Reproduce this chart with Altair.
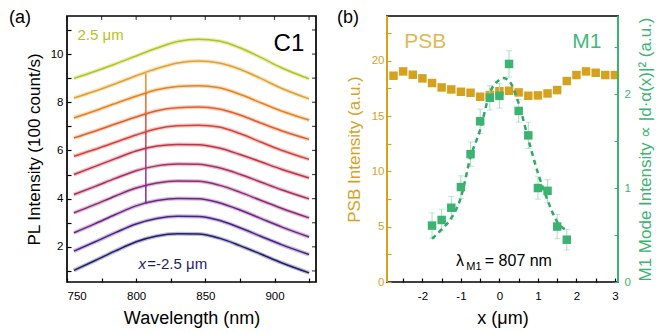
import altair as alt
import pandas as pd

FONT = "Liberation Sans"

# ---------------- panel (a) data ----------------
wavelengths = [755, 770, 785, 800, 815, 830, 845, 860, 875, 890, 905, 925]
positions = ["2.5", "2.0", "1.5", "1.0", "0.5", "0.0", "-0.5", "-1.0", "-1.5", "-2.0", "-2.5"]
curve_colors = ["#b5c320", "#e0a22e", "#e5841f", "#e0602a", "#d4443a", "#c03447",
                "#a8305e", "#8c2a78", "#6c2486", "#4a2088", "#1f1d6b"]
spec_p25 = [8.99, 9.28, 9.59, 9.92, 10.25, 10.52, 10.62, 10.54, 10.26, 9.86, 9.43, 8.97]
spec_p20 = [8.18, 8.46, 8.77, 9.10, 9.40, 9.63, 9.71, 9.63, 9.37, 8.99, 8.58, 8.14]
spec_p15 = [7.35, 7.64, 7.95, 8.25, 8.52, 8.65, 8.68, 8.60, 8.33, 7.98, 7.64, 7.26]
spec_p10 = [6.52, 6.80, 7.10, 7.39, 7.65, 7.77, 7.80, 7.72, 7.47, 7.14, 6.82, 6.46]
spec_p05 = [5.76, 6.04, 6.34, 6.64, 6.90, 7.02, 7.05, 6.97, 6.70, 6.35, 6.01, 5.63]
spec_p00 = [5.00, 5.33, 5.66, 5.98, 6.18, 6.25, 6.24, 6.10, 5.83, 5.53, 5.22, 4.86]
spec_m05 = [4.17, 4.50, 4.84, 5.16, 5.36, 5.44, 5.43, 5.28, 5.01, 4.69, 4.37, 3.99]
spec_m10 = [3.41, 3.75, 4.11, 4.44, 4.65, 4.73, 4.72, 4.56, 4.27, 3.93, 3.60, 3.20]
spec_m15 = [2.58, 2.95, 3.34, 3.70, 3.92, 4.01, 4.00, 3.83, 3.53, 3.18, 2.83, 2.41]
spec_m20 = [1.82, 2.20, 2.59, 2.95, 3.18, 3.27, 3.26, 3.10, 2.79, 2.44, 2.09, 1.68]
spec_m25 = [1.02, 1.42, 1.83, 2.21, 2.45, 2.54, 2.53, 2.36, 2.05, 1.70, 1.34, 0.92]
spectra = [spec_p25, spec_p20, spec_p15, spec_p10, spec_p05, spec_p00,
           spec_m05, spec_m10, spec_m15, spec_m20, spec_m25]

spike_positions = ["1.5", "1.0", "0.5", "0.0", "-0.5", "-1.0", "-1.5"]
spike_wavelength = [807, 807, 807, 807, 807, 807, 807]
spike_base = [8.38, 7.51, 6.76, 6.07, 5.25, 4.54, 3.80]
spike_top = [9.18, 8.38, 7.51, 6.76, 6.07, 5.25, 4.54]

# ---------------- panel (b) data ----------------
psb_x = [-2.75, -2.5, -2.25, -2.0, -1.75, -1.5, -1.25, -1.0, -0.75, -0.5, -0.25, 0.0,
         0.25, 0.5, 0.75, 1.0, 1.25, 1.5, 1.75, 2.0, 2.25, 2.5, 2.75, 3.0]
psb_y = [18.65, 19.04, 18.74, 18.41, 17.99, 17.59, 17.41, 17.20, 17.11, 16.75, 16.90, 17.25,
         17.29, 17.14, 16.84, 16.87, 17.05, 17.35, 18.17, 18.71, 19.04, 18.92, 18.71, 18.71]
m1_x = [-1.75, -1.5, -1.25, -1.0, -0.75, -0.5, -0.25, 0.0, 0.25, 0.5, 0.75, 1.0, 1.25, 1.5, 1.75]
m1_y = [0.60, 0.66, 0.79, 1.01, 1.36, 1.71, 1.96, 1.98, 2.32, 1.82, 1.56, 1.00, 0.97, 0.59, 0.45]
m1_err = [0.135, 0.115, 0.12, 0.12, 0.13, 0.13, 0.13, 0.13, 0.14, 0.12, 0.14, 0.12, 0.12, 0.13, 0.11]
fit_x = [-1.75, -1.5, -1.25, -1.0, -0.75, -0.5, -0.25, 0.0, 0.1, 0.25, 0.5, 0.75, 1.0, 1.25, 1.5, 1.75]
fit_y = [0.46, 0.56, 0.68, 0.90, 1.33, 1.62, 2.01, 2.15, 2.17, 2.14, 1.90, 1.52, 1.16, 0.87, 0.64, 0.55]

GOLD = "#d6a21e"
GOLD_TXT = "#e2b84f"
GREEN = "#3cb371"
GREEN_LIGHT = "#a6dcbd"
GREEN_LINE = "#2eaa66"

WA, HA = 249, 266
WB, HB = 231, 266
TS = 4

# ---------------- panel (a) ----------------
rows = []
for p, vals in zip(positions, spectra):
    for w, v in zip(wavelengths, vals):
        rows.append({"pos": p, "wl": w, "v": v})
spec_df = pd.DataFrame(rows)
spike_df = pd.DataFrame({"pos": spike_positions, "wl": spike_wavelength,
                         "v": spike_base, "v2": spike_top})

color_a = alt.Color("pos:N", scale=alt.Scale(domain=positions, range=curve_colors), legend=None)
xa_scale = alt.Scale(domain=[750, 930], nice=False, zero=False)
ya_scale = alt.Scale(domain=[0.54, 11.58], nice=False, zero=False)

x_ticks_a = [750, 775, 800, 825, 850, 875, 900, 925]
y_ticks_a = [1, 2, 3, 4, 5, 6, 7, 8, 9, 10, 11]

axis_xa = alt.Axis(
    values=x_ticks_a, labelExpr="datum.value % 50 == 0 ? toString(datum.value) : ''",
    labelOverlap=False, offset=-TS, tickSize=TS, domain=False, grid=False, labelPadding=8,
    title="Wavelength (nm)", titlePadding=8, titleFontSize=18, titleFontWeight="normal")
axis_ya = alt.Axis(
    values=y_ticks_a, labelExpr="datum.value % 2 == 0 ? toString(datum.value) : ''",
    labelOverlap=False, offset=-TS, tickSize=TS, domain=False, grid=False, labelPadding=4,
    title="PL Intensity (100 count/s)", titlePadding=7, titleFontSize=17, titleFontWeight="normal")


def XA(f):
    return alt.X(f, type="quantitative", scale=xa_scale, axis=axis_xa)


def YA(f):
    return alt.Y(f, type="quantitative", scale=ya_scale, axis=axis_ya)


noise = alt.Chart(spec_df).mark_line(interpolate="monotone", strokeWidth=4, opacity=0.3).encode(
    x=XA("wl"), y=YA("v"), color=color_a, order="wl:Q")
lines = alt.Chart(spec_df).mark_line(interpolate="monotone", strokeWidth=1.5).encode(
    x=XA("wl"), y=YA("v"), color=color_a, order="wl:Q")
spikes = alt.Chart(spike_df).mark_rule(strokeWidth=1.4).encode(
    x=XA("wl"), y=YA("v"), y2="v2", color=color_a)

# inward ticks on the top and right frame of panel (a)
top_ticks = alt.Chart(pd.DataFrame({"wl": x_ticks_a})).mark_tick(
    orient="vertical", size=TS, thickness=1.2, color="black").encode(
    x=XA("wl"), y=alt.value(TS / 2))
right_ticks = alt.Chart(pd.DataFrame({"v": y_ticks_a})).mark_tick(
    orient="horizontal", size=TS, thickness=1.2, color="black").encode(
    y=YA("v"), x=alt.value(WA - TS / 2))

lab_a = pd.DataFrame({"wl": [757.6], "v": [10.58], "t": ["2.5 \u03bcm"]})
lab_c1 = pd.DataFrame({"wl": [921.5], "v": [10.12], "t": ["C1"]})
lab_xi = pd.DataFrame({"wl": [801.6], "v": [1.07], "t": ["x"]})
lab_xr = pd.DataFrame({"wl": [808.0], "v": [1.07], "t": ["=-2.5 \u03bcm"]})
t1 = alt.Chart(lab_a).mark_text(align="left", baseline="alphabetic", fontSize=15,
                                color=curve_colors[0], font=FONT).encode(x=XA("wl"), y=YA("v"), text="t:N")
t2 = alt.Chart(lab_c1).mark_text(align="right", baseline="alphabetic", fontSize=24,
                                 color="black", font=FONT).encode(x=XA("wl"), y=YA("v"), text="t:N")
t3 = alt.Chart(lab_xi).mark_text(align="left", baseline="alphabetic", fontSize=15, fontStyle="italic",
                                 color=curve_colors[-1], font=FONT).encode(x=XA("wl"), y=YA("v"), text="t:N")
t4 = alt.Chart(lab_xr).mark_text(align="left", baseline="alphabetic", fontSize=15,
                                 color=curve_colors[-1], font=FONT).encode(x=XA("wl"), y=YA("v"), text="t:N")
tag_a = alt.Chart(pd.DataFrame({"t": ["(a)"]})).mark_text(
    align="left", baseline="top", fontSize=18, font=FONT, color="black").encode(
    x=alt.value(-58), y=alt.value(-7), text="t:N")

panel_a = alt.layer(noise, lines, spikes, top_ticks, right_ticks, t1, t2, t3, t4, tag_a).properties(
    width=WA, height=HA)

# ---------------- panel (b) ----------------
psb_df = pd.DataFrame({"x": psb_x, "y": psb_y})
m1_df = pd.DataFrame({"x": m1_x, "y": m1_y,
                      "lo": [a - b for a, b in zip(m1_y, m1_err)],
                      "hi": [a + b for a, b in zip(m1_y, m1_err)]})
fit_df = pd.DataFrame({"x": fit_x, "y": fit_y})

xb_scale = alt.Scale(domain=[-2.92, 3.08], nice=False, zero=False)
ybl_scale = alt.Scale(domain=[0, 24.05], nice=False)
ybr_scale = alt.Scale(domain=[0, 2.83], nice=False)

axis_xb = alt.Axis(
    values=[-2.5, -2, -1.5, -1, -0.5, 0, 0.5, 1, 1.5, 2, 2.5, 3],
    labelExpr="datum.value % 1 == 0 ? toString(datum.value) : ''",
    labelOverlap=False, offset=-TS, tickSize=TS, domain=False, grid=False, labelPadding=8,
    title="x (\u03bcm)", titlePadding=8, titleFontSize=18, titleFontWeight="normal")
axis_ybl = alt.Axis(
    values=[0, 2.5, 5, 7.5, 10, 12.5, 15, 17.5, 20, 22.5],
    labelExpr="datum.value % 5 == 0 ? toString(datum.value) : ''",
    labelOverlap=False, offset=-TS, tickSize=TS, domain=False, grid=False, labelPadding=3,
    labelColor=GOLD, tickColor=GOLD, titleColor=GOLD,
    title="PSB Intensity (a.u.)", titlePadding=8, titleFontSize=17, titleFontWeight="normal")
axis_ybr = alt.Axis(
    orient="right", values=[0, 0.5, 1, 1.5, 2, 2.5],
    labelExpr="datum.value % 1 == 0 ? toString(datum.value) : ''",
    labelOverlap=False, offset=-TS, tickSize=TS, domain=False, grid=False, labelPadding=6,
    labelColor=GREEN, tickColor=GREEN, titleColor=GREEN,
    title="M1 Mode Intensity  \u221d  |d\u00b7\u03b1(x)|\u00b2  (a.u.)", titleAngle=270,
    titleBaseline="top", titlePadding=7, titleFontSize=17, titleFontWeight="normal")


def XB(f):
    return alt.X(f, type="quantitative", scale=xb_scale, axis=axis_xb)


def YBL(f):
    return alt.Y(f, type="quantitative", scale=ybl_scale, axis=axis_ybl)


def YBR(f):
    return alt.Y(f, type="quantitative", scale=ybr_scale, axis=axis_ybr)


psb_pts = alt.Chart(psb_df).mark_square(size=72, color=GOLD, opacity=1).encode(x=XB("x"), y=YBL("y"))
psb_lab = alt.Chart(pd.DataFrame({"x": [-2.47], "y": [21.17], "t": ["PSB"]})).mark_text(
    align="left", baseline="alphabetic", fontSize=21, color=GOLD_TXT, font=FONT).encode(
    x=XB("x"), y=YBL("y"), text="t:N")
lam1 = alt.Chart(pd.DataFrame({"x": [-1.125], "y": [1.42], "t": ["\u03bb"]})).mark_text(
    align="left", baseline="alphabetic", fontSize=16, color="black", font=FONT).encode(
    x=XB("x"), y=YBL("y"), text="t:N")
lam2 = alt.Chart(pd.DataFrame({"x": [-0.86], "y": [1.12], "t": ["M1"]})).mark_text(
    align="left", baseline="alphabetic", fontSize=11, color="black", font=FONT).encode(
    x=XB("x"), y=YBL("y"), text="t:N")
lam3 = alt.Chart(pd.DataFrame({"x": [-0.38], "y": [1.42], "t": ["= 807 nm"]})).mark_text(
    align="left", baseline="alphabetic", fontSize=16, color="black", font=FONT).encode(
    x=XB("x"), y=YBL("y"), text="t:N")
left_border = alt.Chart(pd.DataFrame({"t": [0]})).mark_rule(color=GOLD, strokeWidth=2).encode(
    x=alt.value(0), y=alt.value(0), y2=alt.value(HB))
tag_b = alt.Chart(pd.DataFrame({"t": ["(b)"]})).mark_text(
    align="left", baseline="top", fontSize=18, font=FONT, color="black").encode(
    x=alt.value(-50), y=alt.value(-7), text="t:N")

left_group = alt.layer(psb_pts, psb_lab, lam1, lam2, lam3, left_border, tag_b)

err_rule = alt.Chart(m1_df).mark_rule(color=GREEN_LIGHT, strokeWidth=1).encode(
    x=XB("x"), y=YBR("lo"), y2="hi")
err_lo = alt.Chart(m1_df).mark_tick(color=GREEN_LIGHT, orient="horizontal", size=6, thickness=1).encode(
    x=XB("x"), y=YBR("lo"))
err_hi = alt.Chart(m1_df).mark_tick(color=GREEN_LIGHT, orient="horizontal", size=6, thickness=1).encode(
    x=XB("x"), y=YBR("hi"))
fit_line = alt.Chart(fit_df).mark_line(interpolate="monotone", color=GREEN_LINE, strokeWidth=2.5,
                                       strokeDash=[5, 4]).encode(x=XB("x"), y=YBR("y"))
m1_pts = alt.Chart(m1_df).mark_square(size=72, color=GREEN, opacity=1).encode(x=XB("x"), y=YBR("y"))
m1_lab = alt.Chart(pd.DataFrame({"x": [2.65], "y": [2.49], "t": ["M1"]})).mark_text(
    align="right", baseline="alphabetic", fontSize=21, color="#41b97b", font=FONT).encode(
    x=XB("x"), y=YBR("y"), text="t:N")
right_border = alt.Chart(pd.DataFrame({"t": [0]})).mark_rule(color=GREEN, strokeWidth=2).encode(
    x=alt.value(WB), y=alt.value(0), y2=alt.value(HB))

right_group = alt.layer(err_rule, err_lo, err_hi, fit_line, m1_pts, m1_lab, right_border)

panel_b = alt.layer(left_group, right_group).resolve_scale(y="independent").properties(
    width=WB, height=HB)

chart = alt.hconcat(panel_a, panel_b, spacing=18).properties(padding=0).configure(
    font=FONT
).configure_view(
    stroke="black", strokeWidth=1.7
).configure_axis(
    labelFont=FONT, titleFont=FONT, labelFontSize=11.5, labelColor="black",
    tickColor="black", tickWidth=1.2
)

chart.save("out.html", embed_options={"renderer": "svg", "actions": False})
